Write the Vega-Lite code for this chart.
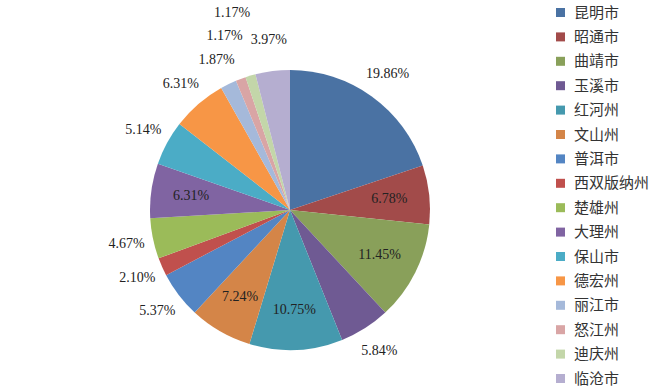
{
  "$schema": "https://vega.github.io/schema/vega-lite/v6.json",
  "width": 580,
  "height": 360,
  "autosize": {"type": "none"},
  "padding": {"left": 0, "top": 30, "right": 83, "bottom": 0},
  "background": "white",
  "config": {"view": {"stroke": null}},
  "data": {"values": [
    {"rank": 1, "city": "昆明市", "value": 19.86},
    {"rank": 2, "city": "昭通市", "value": 6.78},
    {"rank": 3, "city": "曲靖市", "value": 11.45},
    {"rank": 4, "city": "玉溪市", "value": 5.84},
    {"rank": 5, "city": "红河州", "value": 10.75},
    {"rank": 6, "city": "文山州", "value": 7.24},
    {"rank": 7, "city": "普洱市", "value": 5.37},
    {"rank": 8, "city": "西双版纳州", "value": 2.10},
    {"rank": 9, "city": "楚雄州", "value": 4.67},
    {"rank": 10, "city": "大理州", "value": 6.31},
    {"rank": 11, "city": "保山市", "value": 5.14},
    {"rank": 12, "city": "德宏州", "value": 6.31},
    {"rank": 13, "city": "丽江市", "value": 1.87},
    {"rank": 14, "city": "怒江州", "value": 1.17},
    {"rank": 15, "city": "迪庆州", "value": 1.17},
    {"rank": 16, "city": "临沧市", "value": 3.97}
  ]},
  "transform": [
    {"stack": "value", "groupby": [], "sort": [{"field": "rank", "order": "ascending"}], "as": ["v0", "v1"]},
    {"calculate": "(datum.v0 + datum.v1) / 2", "as": "mid"},
    {"calculate": "format(datum.value, '.2f') + '%'", "as": "label"}
  ],
  "encoding": {
    "color": {
      "field": "city", "type": "nominal", "sort": null,
      "scale": {
        "domain": ["昆明市","昭通市","曲靖市","玉溪市","红河州","文山州","普洱市","西双版纳州","楚雄州","大理州","保山市","德宏州","丽江市","怒江州","迪庆州","临沧市"],
        "range": ["#4A72A3","#A24B4A","#89A05A","#6F5A93","#4599AE","#D48548","#5385C3","#C0504D","#9BBB59","#8064A2","#4BACC6","#F79646","#A5B9DA","#D9A5A5","#C3D6A9","#B5AED0"]
      },
      "legend": {
        "title": null,
        "orient": "none",
        "legendX": 553,
        "legendY": -25,
        "symbolType": "square",
        "symbolSize": 81,
        "symbolStrokeWidth": 0,
        "labelFont": "Noto Sans CJK SC",
        "labelFontSize": 15,
        "labelColor": "#333333",
        "labelOffset": 6,
        "rowPadding": 8.4,
        "labelLimit": 200
      }
    }
  },
  "layer": [
    {
      "mark": {"type": "arc", "outerRadius": 140, "stroke": null},
      "encoding": {
        "theta": {"field": "v0", "type": "quantitative", "scale": {"domain": [0, 100]}},
        "theta2": {"field": "v1"}
      }
    },
    {
      "transform": [{"filter": {"field": "rank", "oneOf": [2, 3, 5, 6, 10]}}],
      "mark": {"type": "text", "font": "Liberation Serif", "fontSize": 14, "radius": 100, "baseline": "middle"},
      "encoding": {
        "theta": {"field": "mid", "type": "quantitative", "scale": {"domain": [0, 100]}},
        "text": {"field": "label", "type": "nominal"},
        "color": {"value": "#222222"}
      }
    },
    {
      "transform": [{"filter": {"field": "rank", "oneOf": [1, 4, 7, 8, 9, 11, 12, 13]}}],
      "mark": {"type": "text", "font": "Liberation Serif", "fontSize": 14, "radius": 167, "baseline": "middle"},
      "encoding": {
        "theta": {"field": "mid", "type": "quantitative", "scale": {"domain": [0, 100]}},
        "text": {"field": "label", "type": "nominal"},
        "color": {"value": "#222222"}
      }
    },
    {
      "transform": [{"filter": {"field": "rank", "oneOf": [14]}}],
      "mark": {"type": "text", "font": "Liberation Serif", "fontSize": 14, "radius": 186, "baseline": "middle"},
      "encoding": {
        "theta": {"field": "mid", "type": "quantitative", "scale": {"domain": [0, 100]}},
        "text": {"field": "label", "type": "nominal"},
        "color": {"value": "#222222"}
      }
    },
    {
      "transform": [{"filter": {"field": "rank", "oneOf": [15]}}],
      "mark": {"type": "text", "font": "Liberation Serif", "fontSize": 14, "radius": 205, "baseline": "middle"},
      "encoding": {
        "theta": {"field": "mid", "type": "quantitative", "scale": {"domain": [0, 100]}},
        "text": {"field": "label", "type": "nominal"},
        "color": {"value": "#222222"}
      }
    },
    {
      "transform": [{"filter": {"field": "rank", "oneOf": [16]}}],
      "mark": {"type": "text", "font": "Liberation Serif", "fontSize": 14, "radius": 171, "baseline": "middle"},
      "encoding": {
        "theta": {"field": "mid", "type": "quantitative", "scale": {"domain": [0, 100]}},
        "text": {"field": "label", "type": "nominal"},
        "color": {"value": "#222222"}
      }
    }
  ]
}
